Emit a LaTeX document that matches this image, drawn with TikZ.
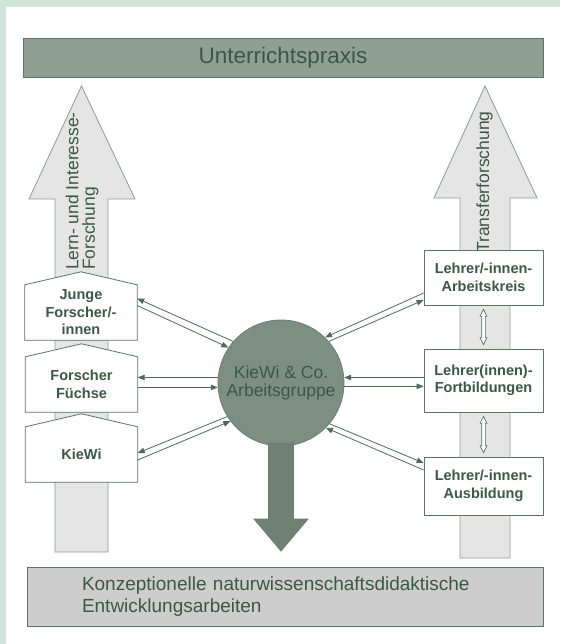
\documentclass[tikz,border=0pt]{standalone}
\usepackage{fontspec}
\setmainfont{Liberation Sans}
\usetikzlibrary{arrows.meta,calc}
\definecolor{bgmint}{HTML}{D1E4DA}
\definecolor{txtg}{HTML}{3B5845}
\definecolor{topfill}{HTML}{8F9F94}
\definecolor{edgec}{HTML}{5C7466}
\definecolor{arrfill}{HTML}{E5E5E5}
\definecolor{arredge}{HTML}{8C9C92}
\definecolor{circfill}{HTML}{7D8F82}
\definecolor{circedge}{HTML}{6A7D70}
\definecolor{downfill}{HTML}{6E8173}
\definecolor{botfill}{HTML}{CDCDCD}
\definecolor{linec}{HTML}{4F6A5A}
\pgfdeclarelayer{back}
\pgfdeclarelayer{mid}
\pgfsetlayers{back,mid,main}
\tikzset{
  topbox/.style={draw=edgec, line width=0.8pt, fill=topfill, minimum width=520, minimum height=39, inner sep=0pt, text=txtg, font=\fontsize{22.5}{26}\selectfont},
  botbox/.style={draw=edgec, line width=0.8pt, fill=botfill, minimum width=516, minimum height=59, inner xsep=55, inner ysep=0pt, text width=406, align=left, text=txtg, font=\fontsize{19}{21.5}\selectfont},
  bigarrow/.style={draw=arredge, line width=0.8pt, fill=arrfill},
  housebody/.style={minimum width=112, minimum height=55, inner sep=0pt, align=center, text=txtg, font=\bfseries\fontsize{14.5}{17.5}\selectfont},
  housepath/.style={draw=edgec, line width=0.8pt, fill=white},
  rbox/.style={draw=edgec, line width=0.8pt, fill=white, minimum width=119, inner sep=0pt, align=center, text=txtg, font=\bfseries\fontsize{14.5}{17.5}\selectfont},
  circ/.style={circle, draw=circedge, line width=0.8pt, fill=circfill, minimum size=126, inner sep=0pt, align=center, text=txtg, font=\fontsize{17.5}{18.5}\selectfont},
  arrlabel/.style={rotate=90, anchor=west, inner sep=0pt, align=left, text=txtg, font=\fontsize{17.5}{16.5}\selectfont},
  lk/.style={draw=linec, line width=0.8pt, -{Triangle[length=7pt,width=5.5pt]}},
  hollowarr/.style={draw=linec, line width=0.6pt, fill=white},
  downarrow/.style={draw=circedge, line width=0.8pt, fill=downfill}
}
\newcommand{\hollowlink}[2]{%
  \draw[hollowarr] ($#1+(0,4)$) -- ($#1+(3.5,11)$) -- ($#1+(1.8,11)$)
    -- ($#2+(1.8,-11)$) -- ($#2+(3.5,-11)$) -- ($#2+(0,-4)$)
    -- ($#2+(-3.5,-11)$) -- ($#2+(-1.8,-11)$) -- ($#1+(-1.8,11)$)
    -- ($#1+(-3.5,11)$) -- cycle;}
\begin{document}
\begin{tikzpicture}[x=1pt,y=-1pt]
\useasboundingbox (0,0) rectangle (560,644);
\begin{pgfonlayer}{back}
\fill[bgmint] (0,0) rectangle (560,644);
\fill[white] (6,7) rectangle (560,644);
% big up arrows
\draw[bigarrow] (55,552) -- (55,199) -- (29,199) -- (81.5,86) -- (135,199) -- (108,199) -- (108,552) -- cycle;
\draw[bigarrow] (460,558) -- (460,198) -- (434,198) -- (485,86) -- (537,198) -- (510,198) -- (510,558) -- cycle;
\end{pgfonlayer}

% top and bottom boxes
\node[topbox] (praxis) at (283,57.5) {Unterrichtspraxis};
\node[botbox] (dev) at (285,596.5) {Konzeptionelle naturwissenschaftsdidaktische\\Entwicklungsarbeiten};

% arrow labels
\node[arrlabel] (lfo) at (82,270) {Lern- und Interesse-\\Forschung};
\node[arrlabel] (tfo) at (484.5,253) {Transferforschung};

% left house boxes
\node[housebody] (jf) at (81,312.5) {Junge\\Forscher/-\\innen};
\node[housebody] (ff) at (81.5,384.5) {Forscher\\Füchse};
\node[housebody] (kw) at (81.5,454.5) {KieWi};
\begin{pgfonlayer}{mid}
\foreach \n in {jf,ff,kw}{
  \draw[housepath] (\n.south west) -- (\n.north west) -- ($(\n.north)+(0,-13)$) -- (\n.north east) -- (\n.south east) -- cycle;
}
\end{pgfonlayer}

% right boxes
\node[rbox, minimum height=55] (r1) at (483.5,277.5) {Lehrer/-innen-\\Arbeitskreis};
\node[rbox, minimum height=63] (r2) at (483.5,380.5) {Lehrer(innen)-\\Fortbildungen};
\node[rbox, minimum height=58] (r3) at (483.5,486) {Lehrer/-innen-\\Ausbildung};

% central circle
\node[circ] (c) at (281,383) {KieWi \& Co.\\Arbeitsgruppe};

% down arrow
\draw[downarrow] (268.5,443) -- (268.5,519) -- (254,519) -- (281,551) -- (308,519) -- (293.5,519) -- (293.5,443) -- cycle;

% connectors left
\draw[lk] (c.139) -- ($(jf.east)+(0,-14)$);
\draw[lk] ($(jf.east)+(0,-7)$) -- (c.146);
\draw[lk] (c.175) -- (c.175 -| ff.east);
\draw[lk] (c.184 -| ff.east) -- (c.184);
\draw[lk] (c.212) -- ($(kw.east)+(0,-1.5)$);
\draw[lk] ($(kw.east)+(0,5.5)$) -- (c.217);

% connectors right
\draw[lk] ($(r1.west)+(0,15.5)$) -- (c.46);
\draw[lk] (c.41) -- ($(r1.west)+(0,22.5)$);
\draw[lk] (c.5.5 -| r2.west) -- (c.5.5);
\draw[lk] (c.357) -- (c.357 -| r2.west);
\draw[lk] (c.320) -- ($(r3.west)+(0,-23)$);
\draw[lk] ($(r3.west)+(0,-16)$) -- (c.315);

% hollow double arrows between right boxes
\hollowlink{(r1.south)}{(r2.north)}
\hollowlink{(r2.south)}{(r3.north)}
\end{tikzpicture}
\end{document}
